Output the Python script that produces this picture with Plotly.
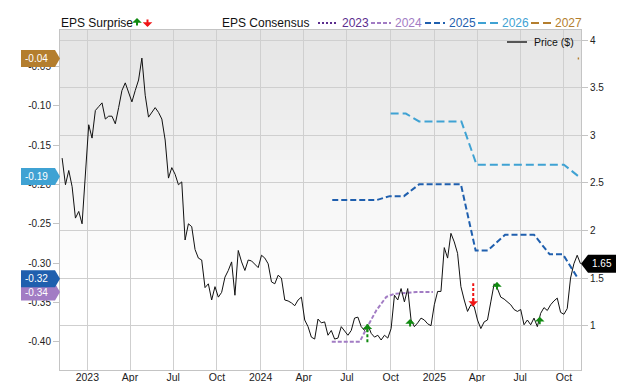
import plotly.graph_objects as go
import pandas as pd

# ---------------- data ----------------
price_start = "2022-11-09"   # weekly closes
price_values = [
    2.76, 2.48, 2.63, 2.46, 2.13, 2.20, 2.07, 2.63, 3.11, 2.97,
    3.26, 3.30, 3.34, 3.17, 3.20, 3.20, 3.12, 3.29, 3.47, 3.55,
    3.45, 3.35, 3.47, 3.58, 3.81, 3.42, 3.19, 3.24, 3.29, 3.24,
    3.17, 2.95, 2.55, 2.66, 2.59, 2.48, 2.51, 1.90, 2.07, 2.04,
    1.80, 1.71, 1.69, 1.40, 1.44, 1.27, 1.41, 1.30, 1.35, 1.51,
    1.58, 1.67, 1.32, 1.79, 1.67, 1.58, 1.69, 1.68, 1.64, 1.61,
    1.74, 1.71, 1.65, 1.46, 1.44, 1.53, 1.50, 1.27, 1.26, 1.24,
    1.21, 1.27, 1.30, 1.06, 0.99, 0.88, 0.86, 1.07, 1.03, 1.04,
    0.90, 0.95, 0.86, 0.87, 0.99, 0.94, 0.90, 0.95, 1.08, 1.09,
    0.99, 0.95, 1.01, 0.92, 0.88, 0.90, 0.85, 0.90, 0.87, 0.97,
    1.32, 1.27, 1.39, 1.25, 1.39, 1.06, 0.99, 1.03, 1.08, 1.06,
    1.02, 1.00, 1.22, 1.36, 1.36, 1.82, 1.71, 1.97, 1.88, 1.76,
    1.41, 1.27, 1.15, 1.22, 1.20, 1.06, 0.97, 1.04, 1.06, 1.25,
    1.44, 1.39, 1.30, 1.28, 1.25, 1.22, 1.17, 1.15, 1.17, 1.01,
    1.06, 1.01, 1.08, 0.99, 1.13, 1.19, 1.16, 1.22, 1.26, 1.29,
    1.14, 1.12, 1.18, 1.50, 1.65, 1.74, 1.65,
]

cons_2024_dates = ["2024-05-30", "2024-07-28", "2024-08-13", "2024-09-01", "2024-09-22",
                   "2024-10-10", "2024-11-03", "2024-11-24", "2024-12-29"]
cons_2024_values = [-0.40, -0.40, -0.381, -0.360, -0.343, -0.339, -0.338, -0.337, -0.337]

cons_2025_dates = ["2024-05-31", "2024-09-01", "2024-09-29", "2024-10-29", "2024-11-30",
                   "2025-02-26", "2025-03-29", "2025-04-24", "2025-05-30", "2025-07-30",
                   "2025-09-01", "2025-09-29", "2025-10-31"]
cons_2025_values = [-0.22, -0.22, -0.215, -0.215, -0.20, -0.20, -0.284, -0.284, -0.264, -0.264,
                    -0.289, -0.289, -0.32]

cons_2026_dates = ["2024-10-01", "2024-11-02", "2024-11-30", "2025-02-27", "2025-03-31",
                   "2025-10-01", "2025-11-01"]
cons_2026_values = [-0.11, -0.11, -0.12, -0.12, -0.175, -0.175, -0.19]

cons_2027_dates = ["2025-10-30", "2025-11-02"]
cons_2027_values = [-0.04, -0.04]

surprise_dates = ["2024-08-13", "2024-11-11", "2025-03-24", "2025-05-13", "2025-08-11"]
surprise_price = [1.015, 1.07, 1.207, 1.46, 1.094]
surprise_dir = ["up", "up", "down", "up", "up"]
surprise_tail = [0.81, None, 1.445, None, None]

left_tick_values = [-0.40, -0.35, -0.30, -0.25, -0.20, -0.15, -0.10, -0.05]
left_tick_labels = ["-0.40", "-0.35", "-0.30", "-0.25", "-0.20", "-0.15", "-0.10", "-0.05"]
right_tick_values = [1, 1.5, 2, 2.5, 3, 3.5, 4]
right_tick_labels = ["1", "1.5", "2", "2.5", "3", "3.5", "4"]
x_tick_dates = ["2023-01-01", "2023-04-01", "2023-07-01", "2023-10-01", "2024-01-01", "2024-04-01",
                "2024-07-01", "2024-10-01", "2025-01-01", "2025-04-01", "2025-07-01", "2025-10-01"]
x_tick_labels = ["2023", "Apr", "Jul", "Oct", "2024", "Apr", "Jul", "Oct", "2025", "Apr", "Jul", "Oct"]

series_years = ["2023", "2024", "2025", "2026", "2027"]

# ---------------- style ----------------
FONT = "Liberation Sans, Arial, sans-serif"
C = {"2023": "#5b2d8e", "2024": "#a27cc4", "2025": "#1f5fae", "2026": "#3fa2d3", "2027": "#b47e2e"}
DASH = {"2023": "2px,2px", "2024": "4px,2px", "2025": "6px,3px", "2026": "8px,4px", "2027": "8px,4px"}
GREEN, RED = "#118a11", "#f01414"
GRID = "#cfcfcf"
AXIS = "#c4c4c4"

# the page body has an 8px margin, so the figure is sized to fit inside it
OFF = 8
W, H = 640 - OFF, 382 - OFF
L, R, T, B = 60 - OFF, 59, 30 - OFF, 12
PW = W - L - R
PH = H - T - B


def px(x):  # window pixel -> paper
    return (x - OFF - L) / PW


def py(y):
    return (H - B - (y - OFF)) / PH


price_dates = pd.date_range(price_start, periods=len(price_values), freq="7D")

fig = go.Figure()

cons = {
    "2024": (cons_2024_dates, cons_2024_values),
    "2025": (cons_2025_dates, cons_2025_values),
    "2026": (cons_2026_dates, cons_2026_values),
    "2027": (cons_2027_dates, cons_2027_values),
}
for yr, (d, v) in cons.items():
    fig.add_trace(go.Scatter(x=d, y=v, yaxis="y", mode="lines", showlegend=False,
                             line=dict(color=C[yr], width=2, dash=DASH[yr]), hoverinfo="skip"))

fig.add_trace(go.Scatter(x=price_dates, y=price_values, yaxis="y2", mode="lines", showlegend=False,
                         line=dict(color="#111111", width=1), hoverinfo="skip"))

annotations = []
for d, p, dr, tail in zip(surprise_dates, surprise_price, surprise_dir, surprise_tail):
    col = GREEN if dr == "up" else RED
    if tail is not None:
        fig.add_trace(go.Scatter(x=[d, d], y=[p, tail], yaxis="y2", mode="lines", showlegend=False,
                                 line=dict(color=col, width=2, dash="3px,2px"), hoverinfo="skip"))
    annotations.append(dict(x=d, y=p, xref="x", yref="y2", text="", showarrow=True,
                            ax=0, ay=9 if dr == "up" else -9, arrowhead=1, arrowsize=0.8,
                            arrowwidth=2, arrowcolor=col, standoff=0))

shapes = []
# background gradient
n = 24
for i in range(n):
    y0 = 30 + i * 10
    g = int(229 + (255 - 229) * i / n)
    shapes.append(dict(type="rect", xref="paper", yref="paper", x0=0, x1=1,
                       y0=py(y0 + 10), y1=py(y0), fillcolor=f"rgb({g},{g},{g})",
                       line=dict(width=0), layer="below"))

# left value badges (last consensus values)
badge_order = ["2024", "2026", "2027", "2025"]
for yr in badge_order:
    v = cons[yr][1][-1]
    shapes.append(dict(type="path", xref="paper", yref="y", xsizemode="pixel", ysizemode="pixel",
                       xanchor=0, yanchor=v,
                       path="M0,0 L-5,8.5 L-39,8.5 L-39,-8.5 L-5,-8.5 Z",
                       fillcolor=C[yr], line=dict(width=0), layer="above"))
    annotations.append(dict(x=0, y=v, xref="paper", yref="y", xshift=-24, text=f"{v:.2f}",
                            showarrow=False, xanchor="center", yanchor="middle",
                            font=dict(family=FONT, size=10, color="white")))

# right price badge
last_price = price_values[-1]
shapes.append(dict(type="path", xref="paper", yref="y2", xsizemode="pixel", ysizemode="pixel",
                   xanchor=1, yanchor=last_price,
                   path="M0,0 L7,9 L35,9 L35,-9 L7,-9 Z",
                   fillcolor="black", line=dict(width=0), layer="above"))
annotations.append(dict(x=1, y=last_price, xref="paper", yref="y2", xshift=21, text=f"{last_price:.2f}",
                        showarrow=False, xanchor="center", yanchor="middle",
                        font=dict(family=FONT, size=10, color="white")))

# top legend
LY = 23
annotations.append(dict(x=px(59), y=py(LY), xref="paper", yref="paper", text="EPS Surprise",
                        showarrow=False, xanchor="left", yanchor="middle",
                        font=dict(family=FONT, size=12, color="#111")))
annotations.append(dict(x=px(137), y=py(18), xref="paper", yref="paper", text="", showarrow=True,
                        ax=0, ay=9, arrowhead=1, arrowsize=0.8, arrowwidth=2, arrowcolor=GREEN, standoff=0))
annotations.append(dict(x=px(147.5), y=py(27), xref="paper", yref="paper", text="", showarrow=True,
                        ax=0, ay=-9, arrowhead=1, arrowsize=0.8, arrowwidth=2, arrowcolor=RED, standoff=0))
annotations.append(dict(x=px(220), y=py(LY), xref="paper", yref="paper", text="EPS Consensus",
                        showarrow=False, xanchor="left", yanchor="middle",
                        font=dict(family=FONT, size=12, color="#111")))
leg_x = {"2023": 318, "2024": 371, "2025": 425, "2026": 478, "2027": 531}
for yr in series_years:
    x0 = leg_x[yr]
    shapes.append(dict(type="line", xref="paper", yref="paper", x0=px(x0), x1=px(x0 + 20),
                       y0=py(LY), y1=py(LY), line=dict(color=C[yr], width=2, dash=DASH[yr])))
    annotations.append(dict(x=px(x0 + 22), y=py(LY), xref="paper", yref="paper", text=yr,
                            showarrow=False, xanchor="left", yanchor="middle",
                            font=dict(family=FONT, size=12, color=C[yr])))

# price legend inside plot
shapes.append(dict(type="line", xref="paper", yref="paper", x0=px(507), x1=px(527),
                   y0=py(42), y1=py(42), line=dict(color="#555555", width=2)))
annotations.append(dict(x=px(532), y=py(42), xref="paper", yref="paper", text="Price ($)",
                        showarrow=False, xanchor="left", yanchor="middle",
                        font=dict(family=FONT, size=10.5, color="#111")))

fig.update_layout(
    template="none",
    width=W, height=H, autosize=False,
    margin=dict(l=L, r=R, t=T, b=B, pad=0),
    paper_bgcolor="white", plot_bgcolor="white",
    font=dict(family=FONT, size=10, color="#222"),
    showlegend=False,
    xaxis=dict(type="date", range=["2022-11-04 12:00", "2025-11-06"], automargin=False,
               tickmode="array", tickvals=x_tick_dates, ticktext=x_tick_labels,
               showgrid=True, gridcolor=GRID, gridwidth=1,
               showline=True, linecolor=AXIS, linewidth=1, mirror=True,
               ticks="", ticklabelstandoff=-3, zeroline=False,
               tickfont=dict(size=10.5, color="#222")),
    yaxis=dict(range=[-0.436, -0.0038], automargin=False,
               tickmode="array", tickvals=left_tick_values, ticktext=left_tick_labels,
               showgrid=False, showline=True, linecolor=AXIS, linewidth=1,
               ticks="outside", ticklen=6, tickcolor=AXIS, zeroline=False,
               tickfont=dict(size=10, color="#222")),
    yaxis2=dict(range=[0.535, 4.105], overlaying="y", side="right", automargin=False,
                tickmode="array", tickvals=right_tick_values, ticktext=right_tick_labels,
                showgrid=True, gridcolor=GRID, gridwidth=1,
                showline=True, linecolor=AXIS, linewidth=1,
                ticks="outside", ticklen=6, tickcolor=AXIS, zeroline=False,
                tickfont=dict(size=10, color="#222")),
    shapes=shapes,
    annotations=annotations,
)

fig.write_html("out.html")
